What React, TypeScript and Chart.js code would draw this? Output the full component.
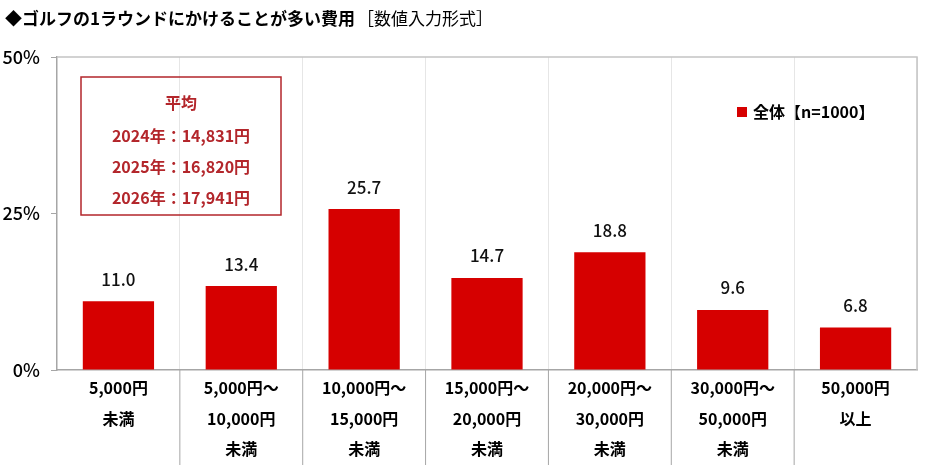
import React, { useEffect, useRef } from "react";
import { Chart, registerables } from "chart.js";

Chart.register(...registerables);

const categories: string[][] = [
  ["5,000円", "未満"],
  ["5,000円～", "10,000円", "未満"],
  ["10,000円～", "15,000円", "未満"],
  ["15,000円～", "20,000円", "未満"],
  ["20,000円～", "30,000円", "未満"],
  ["30,000円～", "50,000円", "未満"],
  ["50,000円", "以上"],
];
const values = [11.0, 13.4, 25.7, 14.7, 18.8, 9.6, 6.8];
const seriesLabel = "全体【n=1000】";
const yTicks = [0, 25, 50];
const avgYears = ["2024", "2025", "2026"];
const avgValues = [14831, 16820, 17941];

const FONT = "'Noto Sans CJK JP', 'Noto Sans', sans-serif";
const RED = "#d60000";
const DARK_RED = "#b3262b";

const App: React.FC = () => {
  const canvasRef = useRef<HTMLCanvasElement | null>(null);
  const chartRef = useRef<Chart | null>(null);

  useEffect(() => {
    if (!canvasRef.current) return;
    if (chartRef.current) chartRef.current.destroy();

    const extras = {
      id: "extras",
      afterDraw: (chart: Chart) => {
        const ctx = chart.ctx;
        const area = chart.chartArea;
        const x = chart.scales.x;
        ctx.save();

        // title
        ctx.fillStyle = "#000";
        ctx.textBaseline = "middle";
        ctx.textAlign = "left";
        ctx.font = `bold 17px ${FONT}`;
        const t1 = "◆ゴルフの1ラウンドにかけることが多い費用";
        ctx.fillText(t1, 5, 19);
        const w1 = ctx.measureText(t1).width;
        ctx.font = `17px ${FONT}`;
        ctx.fillText("［数値入力形式］", 5 + w1 + 2, 19);

        // plot frame (top + right)
        ctx.strokeStyle = "#c4c4c4";
        ctx.lineWidth = 1.5;
        ctx.beginPath();
        ctx.moveTo(area.left, area.top);
        ctx.lineTo(area.right, area.top);
        ctx.lineTo(area.right, area.bottom);
        ctx.stroke();

        // long separators under the axis
        ctx.strokeStyle = "#a6a6a6";
        ctx.lineWidth = 1;
        for (let i = 0; i < categories.length - 1; i++) {
          const px =
            (x.getPixelForValue(i) + x.getPixelForValue(i + 1)) / 2;
          ctx.beginPath();
          ctx.moveTo(px, area.bottom);
          ctx.lineTo(px, area.bottom + 95);
          ctx.stroke();
        }

        // value labels
        const meta = chart.getDatasetMeta(0);
        ctx.fillStyle = "#111";
        ctx.textAlign = "center";
        ctx.font = `500 17px ${FONT}`;
        meta.data.forEach((bar: any, i: number) => {
          ctx.fillText(values[i].toFixed(1), bar.x, bar.y - 22);
        });

        // legend
        const lx = area.right - 180;
        const ly = area.top + 55;
        ctx.fillStyle = RED;
        ctx.fillRect(lx, ly - 5, 10, 10);
        ctx.fillStyle = "#000";
        ctx.textAlign = "left";
        ctx.font = `bold 16px ${FONT}`;
        ctx.fillText(seriesLabel, lx + 16, ly);

        // average box
        const bx = area.left + 24;
        const by = area.top + 20;
        const bw = 200;
        const bh = 138;
        ctx.strokeStyle = DARK_RED;
        ctx.lineWidth = 1.5;
        ctx.strokeRect(bx, by, bw, bh);
        ctx.fillStyle = DARK_RED;
        ctx.textAlign = "center";
        ctx.font = `bold 16px ${FONT}`;
        const cx = bx + bw / 2;
        ctx.fillText("平均", cx, by + 26);
        avgYears.forEach((yr, i) => {
          ctx.fillText(
            `${yr}年：${avgValues[i].toLocaleString("en-US")}円`,
            cx,
            by + 59 + i * 31
          );
        });

        ctx.restore();
      },
    };

    chartRef.current = new Chart(canvasRef.current, {
      type: "bar",
      data: {
        labels: categories,
        datasets: [
          {
            label: seriesLabel,
            data: values,
            backgroundColor: RED,
            barPercentage: 0.58,
            categoryPercentage: 1,
          },
        ],
      },
      options: {
        responsive: false,
        animation: false,
        layout: { padding: { top: 57, right: 23, left: 0, bottom: 0 } },
        plugins: {
          legend: { display: false },
          tooltip: { enabled: false },
        },
        scales: {
          x: {
            grid: {
              offset: true,
              color: "#e6e6e6",
              drawTicks: false,
            },
            border: { color: "#a6a6a6", width: 1.5 },
            ticks: {
              color: "#000",
              padding: 3,
              font: { family: FONT, size: 16, weight: "bold", lineHeight: 1.9 },
            },
            afterFit: (s: any) => {
              s.height = 99;
            },
          },
          y: {
            min: 0,
            max: 50,
            afterBuildTicks: (s: any) => {
              s.ticks = yTicks.map((v) => ({ value: v }));
            },
            grid: {
              drawOnChartArea: false,
              tickLength: 6,
              color: "#a6a6a6",
            },
            border: { color: "#a6a6a6", width: 1.5 },
            ticks: {
              color: "#000",
              padding: 11,
              font: { family: FONT, size: 18, weight: 500 },
              callback: (v: any) => `${v}%`,
            },
            afterFit: (s: any) => {
              s.width = 57;
            },
          },
        },
      },
      plugins: [extras],
    });

    return () => {
      if (chartRef.current) {
        chartRef.current.destroy();
        chartRef.current = null;
      }
    };
  }, []);

  return (
    <div
      style={{
        position: "absolute",
        left: 0,
        top: 0,
        width: 940,
        height: 469,
        background: "#fff",
      }}
    >
      <canvas ref={canvasRef} width={940} height={469}></canvas>
    </div>
  );
};

export default App;
